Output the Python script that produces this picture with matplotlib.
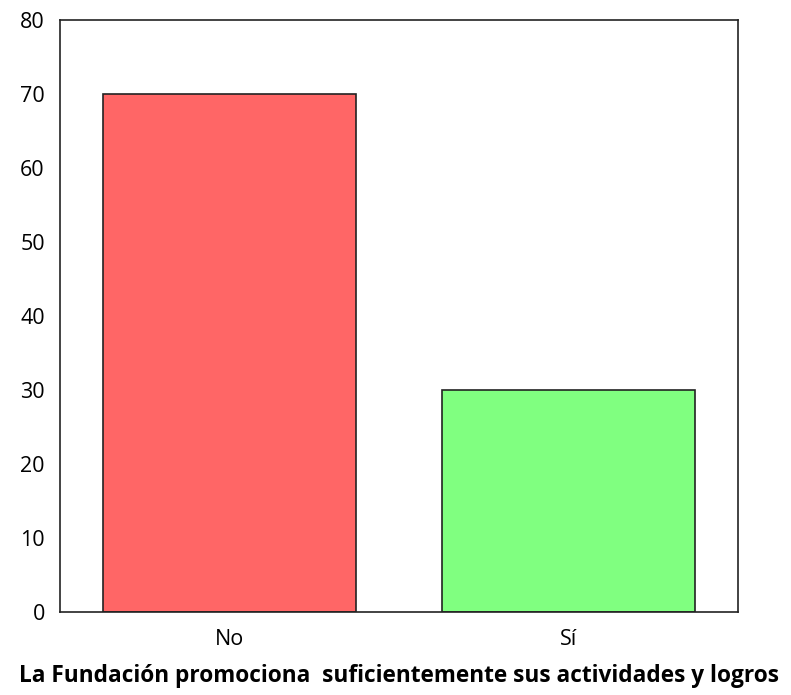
import matplotlib
matplotlib.use('Agg')
from matplotlib import pyplot as plt

plt.rcParams['font.family'] = ['Open Sans', 'DejaVu Sans']

# answers and counts
categories = ['No', 'Sí']
counts = [70, 30]
colors = ['#ff6666', '#80ff80']
title = 'La Fundación promociona  suficientemente sus actividades y logros'

fig = plt.figure(figsize=(7.91, 6.95), dpi=100)
ax = fig.add_axes([0.0759, 0.1194, 0.8571, 0.8518])

ax.bar(range(len(categories)), counts, width=0.745, color=colors,
       edgecolor='#222222', linewidth=1.2, zorder=2)

ax.set_xlim(-0.5, 1.5)
ax.set_ylim(0, 80)
ax.set_yticks(range(0, 81, 10))
ax.set_xticks(range(len(categories)))
ax.set_xticklabels(categories)
ax.tick_params(length=0, labelsize=15.5, pad=12)
ax.tick_params(axis='y', pad=11)
for s in ax.spines.values():
    s.set_color('#222222')
    s.set_linewidth(1.2)

ax.set_xlabel(title, fontsize=16.3, fontweight='bold', labelpad=10)

fig.savefig('out.png', dpi=100)
